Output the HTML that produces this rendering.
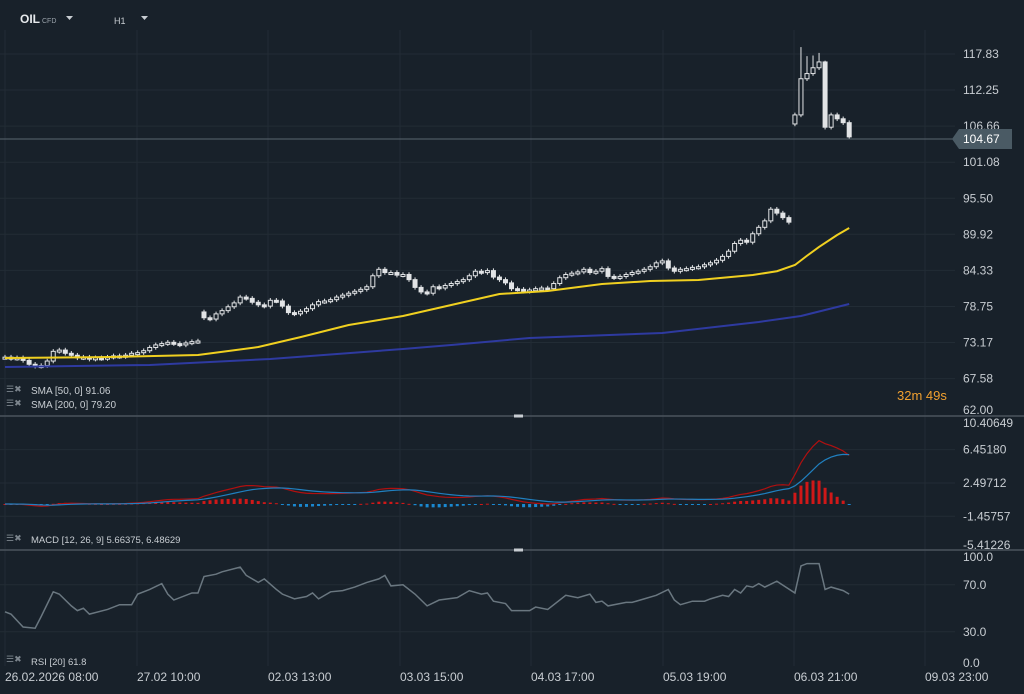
<!DOCTYPE html>
<html><head><meta charset="utf-8"><style>
html,body{margin:0;padding:0;background:#18212a;}
svg{display:block;font-family:"Liberation Sans",sans-serif;}
</style></head><body>
<svg id="c" width="1024" height="694" viewBox="0 0 1024 694">
<rect x="0" y="0" width="1024" height="694" fill="#18212a"/>
<g id="grid"></g>
<g id="cand"></g>
<g id="ind"></g>
<g id="axes"></g>
<g>
<text x="20" y="23" fill="#e6e9ec" font-size="12" font-weight="bold">OIL</text>
<text x="42" y="23" fill="#9aa3ab" font-size="7">CFD</text>
<path d="M66 16 L73 16 L69.5 20 Z" fill="#c8cdd2"/>
<text x="114" y="24" fill="#c8cdd2" font-size="9">H1</text>
<path d="M141 16 L148 16 L144.5 20 Z" fill="#c8cdd2"/>
</g>
<g font-size="10" fill="#c8cdd2">
<text x="6" y="392" fill="#7d868e" font-size="9">☰✖</text>
<text x="31" y="394">SMA [50, 0] 91.06</text>
<text x="6" y="406" fill="#7d868e" font-size="9">☰✖</text>
<text x="31" y="408">SMA [200, 0] 79.20</text>
<text x="6" y="541" fill="#7d868e" font-size="9">☰✖</text>
<text x="31" y="543" font-size="9.5">MACD [12, 26, 9] 5.66375, 6.48629</text>
<text x="6" y="662" fill="#7d868e" font-size="9">☰✖</text>
<text x="31" y="665" font-size="9.5">RSI [20] 61.8</text>
<text x="897" y="400" font-size="13" fill="#f0a030">32m 49s</text>
</g>
</svg>
<script>
const closes=[70.9,70.7,70.8,70.4,69.8,69.5,69.6,70.3,71.8,72.0,71.5,71.2,70.8,70.9,70.6,70.8,70.7,70.9,71.1,71.0,71.2,71.5,71.6,71.9,72.4,72.8,73.0,73.2,73.0,72.8,73.1,73.3,73.4,
77.0,76.8,77.6,78.1,78.7,79.3,80.2,80.0,79.4,79.0,78.8,79.7,79.6,78.8,77.8,77.6,78.0,78.4,79.0,79.5,79.6,79.8,80.2,80.5,80.8,81.1,81.4,81.8,83.5,84.5,84.0,84.0,83.6,83.7,82.9,81.7,81.0,80.8,81.8,81.6,82.0,82.3,82.6,82.9,83.5,84.2,84.0,84.3,83.3,82.9,82.4,81.5,81.4,81.1,81.3,81.5,81.6,81.5,82.3,83.2,83.7,83.9,84.1,84.5,84.0,84.2,84.6,83.4,83.2,83.4,83.7,84.0,84.2,84.5,84.9,85.5,85.8,84.7,84.2,84.5,84.6,84.8,84.9,85.2,85.5,85.9,86.5,87.3,88.5,89.0,88.7,90.0,91.0,92.0,93.8,93.2,92.5,91.8,
108.4,114.0,114.8,115.7,116.6,106.5,108.4,107.8,107.2,105.0];
const gapIdx=[33,131];
const gapOpen=[77.9,107.0];
const spikeIdx=[132,133,134,135,136];
const spikeHigh=[118.9,117.5,117.6,118.0,116.8];
const sma50Idx=[0,16,32,42,49,57,66,74,82,90,99,107,115,124,128,131,133,135,138,140];
const sma50Val=[70.77,70.9,71.24,72.47,74.0,75.88,77.27,78.97,80.68,81.14,82.23,82.69,82.85,83.62,84.2,85.17,86.6,87.96,89.81,90.9];
const sma200Idx=[0,24,44,66,74,87,109,125,132,140];
const sma200Val=[69.38,69.69,70.62,72.16,72.78,73.87,74.64,76.35,77.27,79.13];
const rsiIdx=[0,1,3,5,6,8,9,11,12,13,14,17,19,21,22,24,26,27,28,31,32,33,35,36,39,40,42,43,45,46,48,50,51,52,54,56,58,60,62,63,64,66,68,70,72,75,77,79,80,81,83,84,87,88,90,93,95,97,98,99,100,103,104,106,108,110,111,112,114,116,117,119,120,121,122,123,124,125,126,128,131,132,133,135,136,137,139,140];
const rsiVal=[47,45,34,33,43,64,62,52,48,50,45,49,53,53,62,66,71,62,57,63,63,77,79,81,85,78,72,75,66,62,58,60,63,58,64,65,68,72,75,78,69,70,62,52,57,59,65,62,63,56,54,48,48,51,49,61,59,62,55,56,52,55,55,58,61,66,57,53,56,56,58,61,60,66,63,69,68,71,68,73,63,86,88,88,66,68,65,62];
const priceTicks=["117.83","112.25","106.66","101.08","95.50","89.92","84.33","78.75","73.17","67.58","62.00"];
const macdTicks=["10.40649","6.45180","2.49712","-1.45757","-5.41226"];
const rsiTicks=["100.0","70.0","30.0","0.0"];
const timeLabels=["26.02.2026  08:00","27.02  10:00","02.03  13:00","03.03  15:00","04.03  17:00","05.03  19:00","06.03  21:00","09.03  23:00"];
const lastPrice=104.67;

const NS="http://www.w3.org/2000/svg";
function mk(p,t,a){const e=document.createElementNS(NS,t);for(const k in a)e.setAttribute(k,a[k]);p.appendChild(e);return e;}
const X=i=>5+i*6.03;
const Y=p=>54+(117.83-p)*6.46;
const YM=v=>504-v*8.42;
const YR=v=>667-v*1.175;
const grid=document.getElementById('grid'),cand=document.getElementById('cand'),ind=document.getElementById('ind'),axes=document.getElementById('axes');

const vx=[5,137,268,400,531,663,794,925];
vx.forEach(x=>{const l=mk(grid,'line',{x1:x,y1:30,x2:x,y2:666,stroke:'#222c35','stroke-width':1});

});
priceTicks.forEach((t,k)=>{const y=Y(parseFloat(t));
if(k<priceTicks.length-1){const l=mk(grid,'line',{x1:0,y1:y,x2:955,y2:y,stroke:'#222c35'});

}
const tx=mk(axes,'text',{x:963,y:Math.min(y+4,414),fill:'#c8cdd2','font-size':12});tx.textContent=t;

});
macdTicks.forEach((t,k)=>{const y=YM(parseFloat(t));
if(k>0&&k<4){const l=mk(grid,'line',{x1:0,y1:y,x2:955,y2:y,stroke:'#222c35'});

}
const tx=mk(axes,'text',{x:963,y:Math.max(Math.min(y+4,549),427),fill:'#c8cdd2','font-size':12});tx.textContent=t;

});
rsiTicks.forEach((t,k)=>{const y=YR(parseFloat(t));
if(k==1||k==2){const l=mk(grid,'line',{x1:0,y1:y,x2:955,y2:y,stroke:'#222c35'});

}
const tx=mk(axes,'text',{x:963,y:Math.max(Math.min(y+4,667),561),fill:'#c8cdd2','font-size':12});tx.textContent=t;

});
timeLabels.forEach((t,k)=>{const tx=mk(axes,'text',{x:vx[k],y:681,fill:'#c8cdd2','font-size':12,'xml:space':'preserve'});tx.textContent=t;

});
[416,550].forEach(y=>{const l=mk(axes,'line',{x1:0,y1:y,x2:1024,y2:y,stroke:'#4a545c','stroke-width':1.5});


const r=mk(axes,'rect',{x:514,y:y-1.5,width:9,height:3,fill:'#c8cdd2'});

});
function line(idx,val,color,w,name){const pts=idx.map((i,k)=>X(i)+','+Y(val[k])).join(' ');
const p=mk(ind,'polyline',{points:pts,fill:'none',stroke:color,'stroke-width':w,'stroke-linejoin':'round'});

}
line(sma200Idx,sma200Val,'#2e3aa0',2,'sma200-line');
line(sma50Idx,sma50Val,'#f0d020',2,'sma50-line');
closes.forEach((c,i)=>{let o=i>0?closes[i-1]:c;const g=gapIdx.indexOf(i);if(g>=0)o=gapOpen[g];
let hi=Math.max(o,c)+0.35,lo=Math.min(o,c)-0.35;const s=spikeIdx.indexOf(i);if(s>=0)hi=spikeHigh[s];
const x=X(i);const w=mk(cand,'line',{x1:x,y1:Y(hi),x2:x,y2:Y(lo),stroke:'#e2e4e6','stroke-width':1});


const top=Y(Math.max(o,c)),h=Math.max(Y(Math.min(o,c))-top,2);
const b=mk(cand,'rect',{x:x-2,y:top,width:4,height:h,fill:c>=o?'#18212a':'#e2e4e6',stroke:'#e2e4e6','stroke-width':1});

});
const ly=Y(lastPrice);
const pl=mk(axes,'line',{x1:0,y1:ly,x2:955,y2:ly,stroke:'#5a6670','stroke-width':1});


const pb=mk(axes,'path',{d:`M952 ${ly} L959 ${ly-10} L1012 ${ly-10} L1012 ${ly+10} L959 ${ly+10} Z`,fill:'#4a5a64'});


const pt=mk(axes,'text',{x:963,y:ly+4,fill:'#ffffff','font-size':12});pt.textContent=lastPrice.toFixed(2);


function ema(arr,n){const a=2/(n+1);const out=[];arr.forEach((v,i)=>out.push(i?out[i-1]+a*(v-out[i-1]):v));return out;}
const e12=ema(closes,12),e26=ema(closes,26);const macd=closes.map((c,i)=>e12[i]-e26[i]);const sig=ema(macd,9);
macd.forEach((m,i)=>{const h=m-sig[i];const y0=YM(0),y1=YM(h);
const r=mk(ind,'rect',{x:X(i)-1.5,y:Math.min(y0,y1),width:3,height:Math.max(Math.abs(y1-y0),1),fill:h>=0?'#d01818':'#1a88d0'});

});
const ml=mk(ind,'polyline',{points:macd.map((v,i)=>X(i)+','+YM(v)).join(' '),fill:'none',stroke:'#b01010','stroke-width':1.2});


const sl=mk(ind,'polyline',{points:sig.map((v,i)=>X(i)+','+YM(v)).join(' '),fill:'none',stroke:'#2080c0','stroke-width':1.2});


const rl=mk(ind,'polyline',{points:rsiIdx.map((i,k)=>X(i)+','+YR(rsiVal[k])).join(' '),fill:'none',stroke:'#6a7780','stroke-width':1.5});


</script>
</body></html>
